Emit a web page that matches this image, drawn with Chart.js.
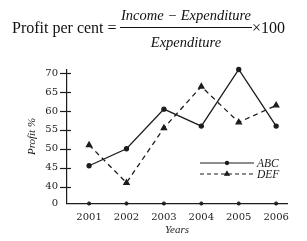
<!DOCTYPE html>
<html>
<head>
<meta charset="utf-8">
<script src="https://cdn.jsdelivr.net/npm/chart.js@4"></script>
<style>
  body { margin: 0; background: #fff; }
  #wrap { position: relative; width: 307px; height: 241px; overflow: hidden; }
  #profit-chart { position: absolute; left: 0; top: 0; }
  .f { position: absolute; font-family: "Liberation Serif", serif; font-size: 16px; line-height: 16px; color: #111; white-space: nowrap; }
  .it { font-style: italic; font-size: 14.5px; line-height: 15px; }
  #bar { position: absolute; left: 120px; top: 27px; width: 132px; height: 1px; background: #111; }
</style>
</head>
<body>
<div id="wrap">
  <canvas id="profit-chart" width="307" height="241"></canvas>
  <div class="f" style="left:12px; top:19.5px;">Profit per cent =</div>
  <div class="f it" style="left:120px; width:132px; text-align:center; top:8px;">Income &minus; Expenditure</div>
  <div id="bar"></div>
  <div class="f it" style="left:120px; width:132px; text-align:center; top:34.5px;">Expenditure</div>
  <div class="f" style="left:252px; top:20px;">&times;100</div>
</div>
<script>
const years = [2001, 2002, 2003, 2004, 2005, 2006];
const abcProfit = [45.5, 50, 60.5, 56, 71, 56];
const defProfit = [51, 41, 55.5, 66.5, 57, 61.5];
const axisZero = [0, 0, 0, 0, 0, 0];
const yTickValues = [0, 40, 45, 50, 55, 60, 65, 70];

// eixo quebrado: o 0 fica logo abaixo do 40
const ZERO_POS = 35.5;
function toAxis(v) { return v === 0 ? ZERO_POS : v; }
function pontos(valores) {
    return years.map(function(ano, i){ return { x: ano, y: toAxis(valores[i]) }; });
}

const INK = '#1c1c1c';

document.addEventListener('DOMContentLoaded', function(){
    montarGrafico();
});

const marcasEixo = {
    id: 'marcasEixo',
    afterDraw: function(chart){
        const ctx = chart.ctx;
        const y = chart.scales.y;
        const x0 = chart.chartArea.left;
        ctx.save();
        ctx.strokeStyle = INK;
        ctx.lineWidth = 1.2;
        yTickValues.forEach(function(v){
            if (v === 0) return;
            const py = Math.round(y.getPixelForValue(v)) + 0.5;
            ctx.beginPath();
            ctx.moveTo(x0 - 7, py);
            ctx.lineTo(x0 + 4, py);
            ctx.stroke();
        });
        ctx.restore();
    }
};

const legenda = {
    id: 'legenda',
    afterDraw: function(chart){
        const ctx = chart.ctx;
        const itens = [
            { ds: chart.data.datasets[0], y: 163, r: 1.6 },
            { ds: chart.data.datasets[1], y: 174, r: 2.6 }
        ];
        ctx.save();
        itens.forEach(function(item){
            const ds = item.ds;
            ctx.strokeStyle = INK;
            ctx.fillStyle = INK;
            ctx.lineWidth = 1.1;
            ctx.setLineDash(ds.borderDash ? [4, 3] : []);
            ctx.beginPath();
            ctx.moveTo(200, item.y);
            ctx.lineTo(254, item.y);
            ctx.stroke();
            ctx.setLineDash([]);
            Chart.helpers.drawPoint(ctx, {
                pointStyle: ds.pointStyle,
                radius: item.r,
                borderWidth: 1
            }, 227, item.y);
            ctx.font = 'italic 11.5px "Liberation Serif"';
            ctx.textBaseline = 'middle';
            ctx.textAlign = 'left';
            ctx.fillText(ds.label, 257, item.y + 1);
        });
        ctx.restore();
    }
};

function montarGrafico() {
    const ctx = document.getElementById('profit-chart');
    new Chart(ctx, {
        type: 'line',
        data: {
            datasets: [
                {
                    label: 'ABC',
                    data: pontos(abcProfit),
                    borderColor: INK,
                    backgroundColor: INK,
                    borderWidth: 1.3,
                    pointStyle: 'circle',
                    pointRadius: 2,
                    clip: false
                },
                {
                    label: 'DEF',
                    data: pontos(defProfit),
                    borderColor: INK,
                    backgroundColor: INK,
                    borderWidth: 1.3,
                    borderDash: [5, 4],
                    pointStyle: 'triangle',
                    pointRadius: 3,
                    clip: false
                },
                {
                    label: 'zero',
                    data: pontos(axisZero),
                    showLine: false,
                    borderColor: INK,
                    backgroundColor: INK,
                    pointStyle: 'circle',
                    pointRadius: 1.6,
                    clip: false
                }
            ]
        },
        options: {
            responsive: false,
            animation: false,
            layout: { padding: { top: 69.5, right: 20, left: 0, bottom: 0 } },
            plugins: {
                legend: { display: false },
                tooltip: { enabled: false }
            },
            scales: {
                x: {
                    type: 'linear',
                    min: 2000.41,
                    max: 2006.29,
                    afterBuildTicks: function(scale){
                        scale.ticks = years.map(function(v){ return { value: v }; });
                    },
                    afterFit: function(scale){ scale.height = 37.5; },
                    grid: { display: false, drawTicks: false },
                    border: { display: true, color: INK, width: 1.2 },
                    ticks: {
                        padding: 8,
                        color: INK,
                        font: { family: 'DejaVu Serif', size: 10 },
                        callback: function(v){ return String(v); }
                    },
                    title: {
                        display: true,
                        text: 'Years',
                        color: INK,
                        padding: { top: 0, bottom: 4 },
                        font: { family: 'Liberation Serif', size: 11, style: 'italic' }
                    }
                },
                y: {
                    min: ZERO_POS,
                    max: 71,
                    afterBuildTicks: function(scale){
                        scale.ticks = yTickValues.map(function(v){ return { value: toAxis(v) }; });
                    },
                    afterFit: function(scale){ scale.width = 67; },
                    grid: { display: false, drawTicks: false },
                    border: { display: true, color: INK, width: 1.2 },
                    ticks: {
                        padding: 9,
                        color: INK,
                        font: { family: 'DejaVu Serif', size: 10 },
                        callback: function(v){ return v === ZERO_POS ? '0' : String(v); }
                    },
                    title: {
                        display: true,
                        text: 'Profit %',
                        color: INK,
                        padding: { top: 26, bottom: 0 },
                        font: { family: 'Liberation Serif', size: 11, style: 'italic' }
                    }
                }
            }
        },
        plugins: [marcasEixo, legenda]
    });
}
</script>
</body>
</html>
